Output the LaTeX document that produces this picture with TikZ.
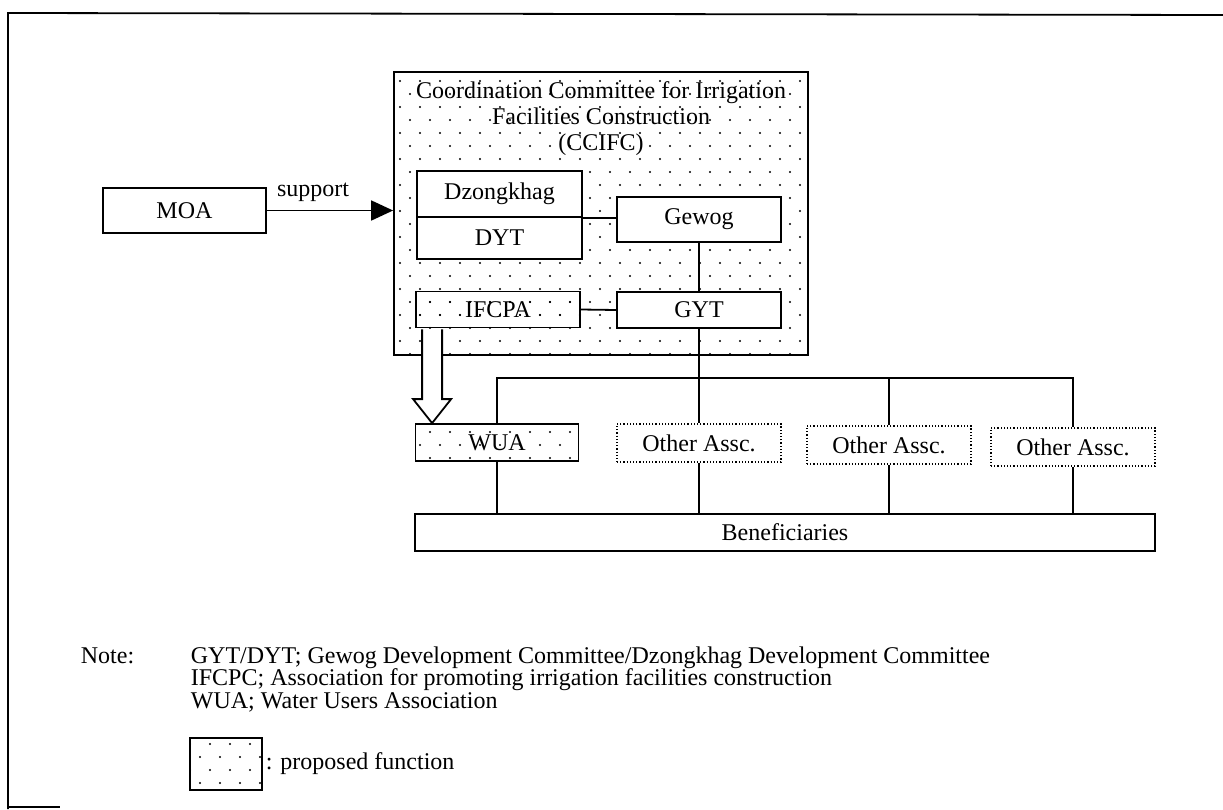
\documentclass[tikz,border=0pt]{standalone}
\usepackage{fontspec}
\setmainfont{Liberation Serif}
\usetikzlibrary{positioning, arrows.meta, patterns, calc}
\pgfdeclarepatternformonly{sparse dots}{\pgfpoint{-2pt}{-2pt}}{\pgfpoint{22pt}{28pt}}{\pgfpoint{20pt}{26pt}}{%
  \pgfpathcircle{\pgfpoint{0pt}{0pt}}{1.2pt}%
  \pgfpathcircle{\pgfpoint{10pt}{13pt}}{1.2pt}%
  \pgfusepath{fill}}
\tikzset{font=\fontsize{24}{26}\selectfont,
  box/.style={draw, fill=white, minimum width=164pt, minimum height=37pt, inner sep=0pt},
  proposed/.style={draw, pattern=sparse dots, minimum width=164pt, minimum height=36pt, inner sep=0pt},
  otherbox/.style={draw, dotted, line width=1.2pt, minimum width=164pt, minimum height=38pt, inner sep=0pt}}

\begin{document}
\begin{tikzpicture}[x=1pt, y=-1pt, line width=1.8pt]
    \useasboundingbox (0,0) rectangle (1223,809);
    % frame
    \draw (1223,15) -- (8,13) -- (8,809);
    \draw (8,807) -- (60,807);

    \node[draw, pattern=sparse dots, minimum width=414pt, minimum height=283pt] (ccifc) at (601,213.5) {};
    \node[align=center] (title) at (601,119) {Coordination Committee for Irrigation\\Facilities Construction\\(CCIFC)};

    \node[box, minimum width=165pt, minimum height=46pt] (dzong) at (499.5,194) {Dzongkhag};
    \node[box, minimum width=165pt, minimum height=42pt] (dyt) at (499.5,238) {DYT};
    \node[box, minimum height=45pt] (gewog) at (699,219.5) {Gewog};
    \node[box, minimum height=36pt] (gyt) at (699,310) {GYT};
    \node[proposed] (ifcpa) at (498,309.5) {IFCPA};

    \node[box, minimum width=163pt, minimum height=45pt] (moa) at (184.5,210.5) {MOA};
    \draw[-{Triangle[length=22pt, width=20pt]}] (moa.east) -- (moa.east -| ccifc.west)
        node[pos=0, anchor=base west, xshift=6pt, yshift=14pt] {support};

    \node[proposed, minimum width=163pt, minimum height=37pt] (wua) at (497,442.5) {WUA};
    \node[otherbox] (other1) at (699,443) {Other Assc.};
    \node[otherbox] (other2) at (889,445) {Other Assc.};
    \node[otherbox] (other3) at (1073,447) {Other Assc.};
    \node[box, minimum width=740pt, minimum height=37pt] (benef) at (785,532.5) {Beneficiaries};

    % connectors
    \draw (dzong.south east) -- (dzong.south east -| gewog.west);
    \draw (gewog.south) -- (gyt.north);
    \draw (ifcpa.east) -- (gyt.west);
    \draw (gyt.south) -- (other1.north);
    \coordinate (bus) at (0,378);
    \draw (wua.north) -- (wua.north |- bus) -- (other3.north |- bus) -- (other3.north);
    \draw (other2.north) -- (other2.north |- bus);
    \foreach \a in {wua, other1, other2, other3}
        \draw (\a.south) -- (\a.south |- benef.north);

    % hollow arrow IFCPA -> WUA
    \coordinate (ha) at ($(ifcpa.south west)+(17,1)$);
    \coordinate (tip) at (ha |- wua.north);
    \filldraw[fill=white] ($(ha)+(-10,0)$) -- ($(tip)+(-10,-24)$) -- ($(tip)+(-19,-24)$) -- (tip)
        -- ($(tip)+(19,-24)$) -- ($(tip)+(10,-24)$) -- ($(ha)+(10,0)$);

    % note
    \node[anchor=base west, inner sep=0pt] (note) at (80,663) {Note:};
    \node[anchor=base west, inner sep=0pt] (n1) at (190,663) {GYT/DYT; Gewog Development Committee/Dzongkhag Development Committee};
    \node[anchor=base west, inner sep=0pt] (n2) at ($(n1.base west)+(0,22.5)$) {IFCPC; Association for promoting irrigation facilities construction};
    \node[anchor=base west, inner sep=0pt] (n3) at ($(n2.base west)+(0,22.5)$) {WUA; Water Users Association};

    \node[proposed, minimum width=72pt, minimum height=52pt] (legend) at (226,764) {};
    \node[anchor=west, inner sep=2pt] (legtext) at (legend.east) {: proposed function};
\end{tikzpicture}
\end{document}
